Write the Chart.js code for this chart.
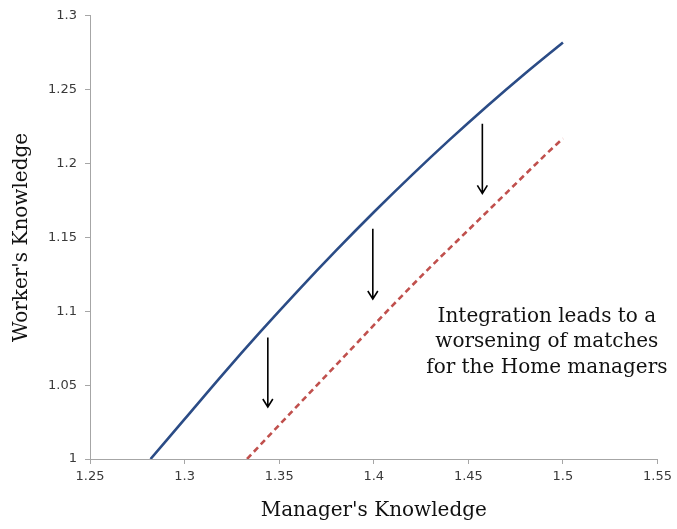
<!DOCTYPE html>
<html>
<head>
<meta charset="utf-8">
<script src="https://cdn.jsdelivr.net/npm/chart.js@4.4.0/dist/chart.umd.min.js"></script>
<style>
  html, body { margin: 0; padding: 0; background: #fff; }
  #wrap { width: 677px; height: 529px; }
</style>
</head>
<body>
<div id="wrap"><canvas id="knowChart" width="677" height="529"></canvas></div>
<script>
// Matching of worker and manager knowledge, before / after integration

// Autarky (solid blue)
const beforeX = [1.282, 1.30, 1.32, 1.34, 1.36, 1.38, 1.40, 1.42, 1.44, 1.46, 1.48, 1.50];
const beforeY = [1.000, 1.027, 1.057, 1.086, 1.114, 1.141, 1.167, 1.192, 1.216, 1.239, 1.261, 1.282];

// Integration (dashed red)
const afterX = [1.333, 1.35, 1.37, 1.39, 1.41, 1.43, 1.45, 1.47, 1.49, 1.50];
const afterY = [1.000, 1.023, 1.050, 1.077, 1.104, 1.130, 1.155, 1.180, 1.205, 1.217];

// Downward arrows (x, from y, to y)
const arrowX = [1.344, 1.3995, 1.4574];
const arrowFromY = [1.0823, 1.1558, 1.2269];
const arrowToY = [1.0352, 1.1083, 1.1798];

const noteLines = ['Integration leads to a', 'worsening of matches', 'for the Home managers'];

const xTicks = [1.25, 1.3, 1.35, 1.4, 1.45, 1.5, 1.55];
const yTicks = [1, 1.05, 1.1, 1.15, 1.2, 1.25, 1.3];

const toPts = (xs, ys) => xs.map((x, i) => ({ x: x, y: ys[i] }));

// arrows + note text drawn in data coordinates
const annotate = {
    id: 'annotate',
    afterDatasetsDraw(chart) {
        const { ctx, scales: { x, y } } = chart;
        ctx.save();
        ctx.strokeStyle = '#000';
        ctx.lineWidth = 1.6;
        arrowX.forEach((ax, i) => {
            const px = x.getPixelForValue(ax);
            const y0 = y.getPixelForValue(arrowFromY[i]);
            const y1 = y.getPixelForValue(arrowToY[i]);
            ctx.beginPath();
            ctx.moveTo(px, y0);
            ctx.lineTo(px, y1);
            ctx.moveTo(px - 5, y1 - 8);
            ctx.lineTo(px, y1);
            ctx.lineTo(px + 5, y1 - 8);
            ctx.stroke();
        });
        ctx.fillStyle = '#111';
        ctx.font = '20px "DejaVu Serif"';
        ctx.textAlign = 'center';
        ctx.textBaseline = 'middle';
        const cx = x.getPixelForValue(1.4915);
        const cy = y.getPixelForValue(1.0964);
        noteLines.forEach((t, i) => ctx.fillText(t, cx, cy + i * 25.5));
        ctx.restore();
    }
};

const ctx = document.getElementById('knowChart').getContext('2d');
new Chart(ctx, {
    type: 'scatter',
    data: {
        datasets: [{
            label: 'Before integration',
            data: toPts(beforeX, beforeY),
            showLine: true,
            borderColor: '#2b4c86',
            borderWidth: 2.6,
            pointRadius: 0,
            cubicInterpolationMode: 'monotone'
        }, {
            label: 'After integration',
            data: toPts(afterX, afterY),
            showLine: true,
            borderColor: '#c0504d',
            borderWidth: 2.6,
            borderDash: [6, 4],
            pointRadius: 0,
            cubicInterpolationMode: 'monotone'
        }]
    },
    options: {
        responsive: false,
        animation: false,
        layout: { padding: { top: 13, right: 17, left: 0, bottom: 0 } },
        plugins: {
            legend: { display: false },
            tooltip: { enabled: false }
        },
        scales: {
            x: {
                type: 'linear',
                min: 1.25,
                max: 1.55,
                afterBuildTicks: (s) => { s.ticks = xTicks.map(v => ({ value: v })); },
                afterFit: (s) => { s.height = 70; },
                ticks: {
                    color: '#3a3a3a',
                    font: { family: 'DejaVu Sans', size: 13 },
                    padding: 5,
                    maxRotation: 0,
                    callback: (v) => String(v)
                },
                grid: { drawOnChartArea: false, color: '#a6a6a6', tickLength: 5 },
                border: { color: '#a6a6a6', width: 1 },
                title: {
                    display: true,
                    text: "Manager's Knowledge",
                    color: '#111',
                    font: { family: 'DejaVu Serif', size: 20 },
                    padding: { top: 0, bottom: 6 }
                }
            },
            y: {
                type: 'linear',
                min: 1,
                max: 1.3,
                afterBuildTicks: (s) => { s.ticks = yTicks.map(v => ({ value: v })); },
                afterFit: (s) => { s.width = 90; },
                ticks: {
                    color: '#3a3a3a',
                    font: { family: 'DejaVu Sans', size: 13 },
                    padding: 8,
                    callback: (v) => String(v)
                },
                grid: { drawOnChartArea: false, color: '#a6a6a6', tickLength: 5 },
                border: { color: '#a6a6a6', width: 1 },
                title: {
                    display: true,
                    text: "Worker's Knowledge",
                    color: '#111',
                    font: { family: 'DejaVu Serif', size: 20 },
                    padding: { top: 10, bottom: 0 }
                }
            }
        }
    },
    plugins: [annotate]
});
</script>
</body>
</html>
